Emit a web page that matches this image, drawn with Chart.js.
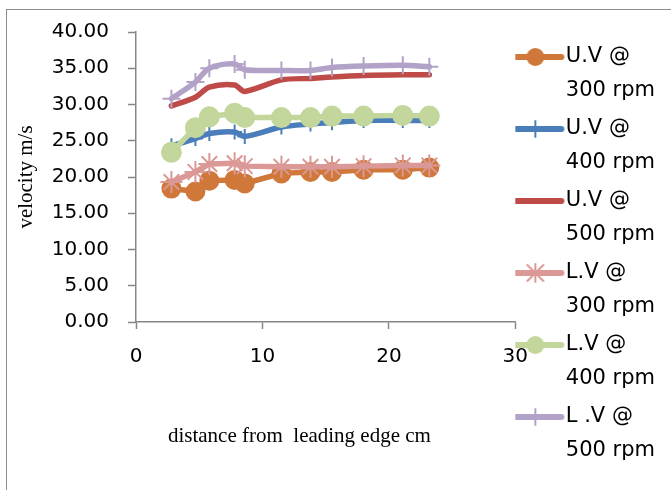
<!DOCTYPE html>
<html>
<head>
<meta charset="utf-8">
<script src="https://cdn.jsdelivr.net/npm/chart.js@4.4.1/dist/chart.umd.min.js"></script>
<style>
  html, body { margin: 0; padding: 0; background: #fff; }
  #wrap { position: relative; width: 671px; height: 490px; overflow: hidden; }
  #frame { position: absolute; left: 6px; top: 9px; width: 720px; height: 600px; border: 1px solid #8c8c8c; pointer-events: none; }
  #velocityChart { position: absolute; left: 0; top: 0; }
</style>
</head>
<body>
<div id="wrap">
  <canvas id="velocityChart" width="671" height="490"></canvas>
  <div id="frame"></div>
</div>
<script>
// distance from leading edge (cm)
const distance = [2.8, 4.7, 5.8, 7.8, 8.6, 11.5, 13.8, 15.5, 18.0, 21.1, 23.2];

// upper surface velocity (m/s)
const uv300 = [18.4, 18.0, 19.5, 19.6, 19.1, 20.5, 20.7, 20.7, 21.0, 21.0, 21.3];
const uv400 = [24.3, 25.3, 26.0, 26.2, 25.6, 26.9, 27.3, 27.5, 27.8, 27.8, 27.8];
const uv500 = [29.8, 31.0, 32.4, 32.7, 31.8, 33.4, 33.6, 33.8, 34.0, 34.1, 34.1];

// lower surface velocity (m/s)
const lv300 = [19.3, 20.7, 21.8, 21.9, 21.5, 21.4, 21.4, 21.4, 21.5, 21.6, 21.6];
const lv400 = [23.4, 26.8, 28.3, 28.8, 28.2, 28.2, 28.2, 28.4, 28.4, 28.5, 28.4];
const lv500 = [30.8, 33.1, 35.0, 35.6, 34.8, 34.7, 34.7, 35.1, 35.3, 35.4, 35.2];

const seriesNames = [
    ['U.V @', '300 rpm'],
    ['U.V @', '400 rpm'],
    ['U.V @', '500 rpm'],
    ['L.V @', '300 rpm'],
    ['L.V @', '400 rpm'],
    ['L .V @', '500 rpm']
];

const xTicks = [0, 10, 20, 30];
const yTicks = [0, 5, 10, 15, 20, 25, 30, 35, 40];

const colors = {
    orange: '#D0783A',
    blue: '#4A7EBB',
    red: '#BE4B48',
    pink: '#DA9896',
    green: '#C3D69B',
    purple: '#B3A2C7'
};

function toPoints(values) {
    return values.map((v, i) => ({ x: distance[i], y: v }));
}

// small canvases used as legend symbols: a line with the series marker on it
function legendIcon(color, marker) {
    const c = document.createElement('canvas');
    c.width = 64;
    c.height = 26;
    const g = c.getContext('2d');
    g.strokeStyle = color;
    g.fillStyle = color;
    g.lineCap = 'round';
    g.lineWidth = 6;
    g.beginPath();
    g.moveTo(4, 13);
    g.lineTo(56, 13);
    g.stroke();
    const cx = 30, cy = 13;
    g.lineWidth = 2;
    if (marker === 'circle') {
        g.beginPath();
        g.arc(cx, cy, 9, 0, Math.PI * 2);
        g.fill();
    } else if (marker === 'tick') {
        g.beginPath();
        g.moveTo(cx, cy - 8);
        g.lineTo(cx, cy + 8);
        g.stroke();
    } else if (marker === 'star') {
        g.beginPath();
        g.moveTo(cx, cy - 9); g.lineTo(cx, cy + 9);
        g.moveTo(cx - 8, cy - 8); g.lineTo(cx + 8, cy + 8);
        g.moveTo(cx - 8, cy + 8); g.lineTo(cx + 8, cy - 8);
        g.stroke();
    }
    return c;
}

const legendIcons = [
    legendIcon(colors.orange, 'circle'),
    legendIcon(colors.blue, 'tick'),
    legendIcon(colors.red, null),
    legendIcon(colors.pink, 'star'),
    legendIcon(colors.green, 'circle'),
    legendIcon(colors.purple, 'tick')
];

function series(i, values, color, extra) {
    return Object.assign({
        label: seriesNames[i].join(' '),
        data: toPoints(values),
        borderColor: color,
        backgroundColor: color,
        borderWidth: 5.5,
        borderCapStyle: 'round',
        borderJoinStyle: 'round',
        pointBackgroundColor: color,
        pointBorderColor: color,
        pointBorderWidth: 2,
        fill: false
    }, extra);
}

const tickFont = { family: 'DejaVu Sans', size: 20 };
const titleFont = { family: 'Liberation Serif', size: 21 };
const axisGray = '#868686';

const ctx = document.getElementById('velocityChart').getContext('2d');
const chart = new Chart(ctx, {
    type: 'line',
    data: {
        datasets: [
            series(0, uv300, colors.orange, { pointStyle: 'circle', pointRadius: 9, tension: 0, order: 6 }),
            series(1, uv400, colors.blue, { pointStyle: 'cross', pointRadius: 7.5, tension: 0.3, order: 5 }),
            series(2, uv500, colors.red, { pointRadius: 0, tension: 0.3, order: 4 }),
            series(3, lv300, colors.pink, { pointStyle: 'star', pointRadius: 11, tension: 0, order: 3 }),
            series(4, lv400, colors.green, { pointStyle: 'circle', pointRadius: 9.5, tension: 0, order: 2 }),
            series(5, lv500, colors.purple, { pointStyle: 'cross', pointRadius: 9, tension: 0.3, order: 1 })
        ]
    },
    options: {
        responsive: false,
        animation: false,
        layout: {
            padding: { top: 32, right: 6, bottom: 1, left: 0 }
        },
        plugins: {
            legend: {
                position: 'right',
                align: 'center',
                labels: {
                    usePointStyle: true,
                    pointStyleWidth: 36,
                    padding: 4,
                    color: '#000',
                    font: { family: 'DejaVu Sans', size: 21, lineHeight: '34px' },
                    generateLabels: function(chart) {
                        return chart.data.datasets.map((ds, i) => ({
                            text: seriesNames[i],
                            pointStyle: legendIcons[i],
                            fontColor: '#000',
                            datasetIndex: i,
                            hidden: false,
                            lineWidth: 0,
                            strokeStyle: ds.borderColor,
                            fillStyle: ds.borderColor
                        }));
                    }
                }
            },
            tooltip: { enabled: false }
        },
        scales: {
            x: {
                type: 'linear',
                min: xTicks[0],
                max: xTicks[xTicks.length - 1],
                afterBuildTicks: function(scale) {
                    scale.ticks = xTicks.map(v => ({ value: v }));
                },
                ticks: {
                    color: '#000',
                    font: tickFont,
                    padding: 16,
                    maxRotation: 0
                },
                grid: {
                    drawOnChartArea: false,
                    drawTicks: true,
                    tickLength: 7,
                    color: axisGray,
                    tickColor: axisGray,
                    tickWidth: 1.5
                },
                border: { color: axisGray, width: 1.5 },
                title: {
                    display: true,
                    text: 'distance from  leading edge cm          ',
                    color: '#000',
                    font: titleFont,
                    padding: { top: 0, bottom: 40 }
                },
                afterFit: function(scale) {
                    scale.height = 167;
                }
            },
            y: {
                min: yTicks[0],
                max: yTicks[yTicks.length - 1],
                afterBuildTicks: function(scale) {
                    scale.ticks = yTicks.map(v => ({ value: v }));
                },
                ticks: {
                    color: '#000',
                    font: tickFont,
                    padding: 19,
                    callback: function(value) {
                        return value.toFixed(2);
                    }
                },
                grid: {
                    drawOnChartArea: false,
                    drawTicks: true,
                    tickLength: 8,
                    color: axisGray,
                    tickColor: axisGray,
                    tickWidth: 1.5
                },
                border: { color: axisGray, width: 1.5 },
                title: {
                    display: true,
                    text: 'velocity m/s',
                    color: '#000',
                    font: titleFont,
                    padding: { top: 14, bottom: 0 }
                },
                afterFit: function(scale) {
                    scale.width = 136;
                }
            }
        }
    }
});
</script>
</body>
</html>
